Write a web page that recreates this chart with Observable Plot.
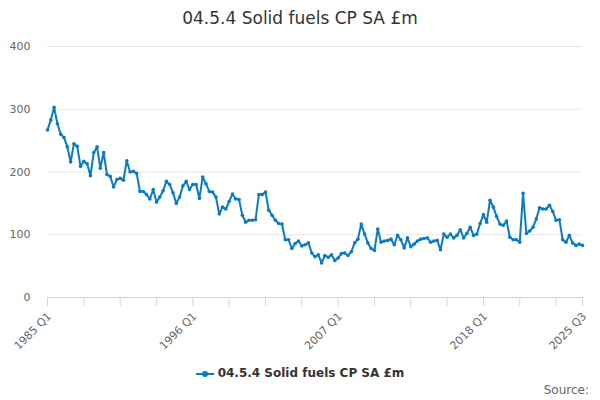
<!DOCTYPE html>
<html>
<head>
<meta charset="utf-8">
<script src="https://cdn.jsdelivr.net/npm/d3@7"></script>
<script src="https://cdn.jsdelivr.net/npm/@observablehq/plot@0.6"></script>
<style>
  body { margin: 0; background: #fff; font-family: "DejaVu Sans", sans-serif; }
  #wrap { width: 600px; height: 400px; position: relative; overflow: hidden; }
  #title { height: 36px; line-height: 36px; text-align: center; font-size: 17px; color: #333; }
  #legend { position: absolute; top: 366px; left: 0; width: 600px; text-align: center; font-size: 12px; font-weight: bold; color: #333; }
  #legend svg { vertical-align: middle; margin-right: 4px; }
  #source { position: absolute; top: 383px; right: 11px; font-size: 12px; color: #666; }
</style>
</head>
<body>
<div id="wrap">
  <div id="title">04.5.4 Solid fuels CP SA £m</div>
  <div id="chart"></div>
  <div id="legend"><svg width="18" height="10"><line x1="0" y1="5" x2="18" y2="5" stroke="#0b7bc1" stroke-width="2"/><circle cx="9" cy="5" r="3" fill="#0b7bc1"/></svg><span>04.5.4 Solid fuels CP SA £m</span></div>
  <div id="source">Source:</div>
</div>
<script>
const seriesName = "04.5.4 Solid fuels CP SA £m";
const startYear = 1985;
const values = [
  267, 283, 303, 277,
  260, 255, 240, 216,
  245, 241, 209, 217,
  213, 194, 231, 240,
  206, 231, 196, 193,
  176, 188, 190, 187,
  218, 200, 201, 198,
  169, 169, 164, 157,
  172, 152, 160, 170,
  185, 180, 167, 150,
  160, 178, 185, 172,
  180, 180, 158, 192,
  181, 169, 168, 160,
  133, 144, 141, 153,
  165, 157, 156, 131,
  120, 123, 123, 124,
  164, 164, 168, 139,
  131, 123, 118, 117,
  92, 92, 78, 86,
  90, 82, 84, 87,
  71, 65, 68, 55,
  67, 64, 68, 59,
  63, 70, 71, 67,
  73, 87, 93, 117,
  101, 87, 78, 75,
  109, 88, 90, 91,
  93, 84, 99, 92,
  79, 95, 81, 85,
  90, 93, 94, 95,
  88, 90, 91, 76,
  101, 96, 101, 95,
  99, 108, 95, 102,
  112, 99, 101, 118,
  132, 120, 155, 144,
  129, 117, 115, 122,
  96, 92, 92, 88,
  166, 102, 106, 112,
  125, 143, 141, 141,
  147, 137, 123, 124,
  92, 88, 99, 87,
  83, 85, 83
];
const yTicks = [0, 100, 200, 300, 400];
const tickPositions = [0, 11, 22, 33, 44, 55, 66, 77, 88, 99, 110, 121, 132, 143, 154, 162];
const labelPositions = [0, 44, 88, 132, 162];
const tickLabels = ["1985 Q1", "1996 Q1", "2007 Q1", "2018 Q1", "2025 Q3"];

const data = values.map((v, i) => ({
  i, v,
  q: `${startYear + Math.floor(i / 4)} Q${(i % 4) + 1}`
}));
const color = "#0b7bc1";

const chart = Plot.plot({
  width: 600,
  height: 320,
  marginLeft: 47,
  marginRight: 18,
  marginTop: 10,
  marginBottom: 59,
  style: { fontFamily: "DejaVu Sans, sans-serif", fontSize: "11px", color: "#666", background: "#fff" },
  x: { domain: [0, values.length - 1] },
  y: { domain: [0, 400] },
  marks: [
    Plot.ruleY(yTicks.slice(1), { stroke: "#e6e6e6", strokeWidth: 1 }),
    Plot.ruleY([0], { stroke: "#ccd6eb", strokeWidth: 1 }),
    Plot.axisY({ ticks: yTicks, tickSize: 0, tickPadding: 17, fontSize: 11, fill: "#666", label: null }),
    Plot.axisX({ ticks: tickPositions, tickFormat: () => "", tickSize: 9, stroke: "#ccd6eb", label: null }),
    Plot.axisX({
      ticks: labelPositions,
      tickFormat: (d) => tickLabels[labelPositions.indexOf(d)],
      tickSize: 0, tickPadding: 17, tickRotate: -45, dx: 2, fontSize: 11, fill: "#666", label: null
    }),
    Plot.line(data, { x: "i", y: "v", stroke: color, strokeWidth: 2 }),
    Plot.dot(data, { x: "i", y: "v", r: 1.8, fill: color, stroke: "none", title: (d) => `${d.q}: ${d.v}` })
  ]
});
document.getElementById("chart").appendChild(chart);
</script>
</body>
</html>
